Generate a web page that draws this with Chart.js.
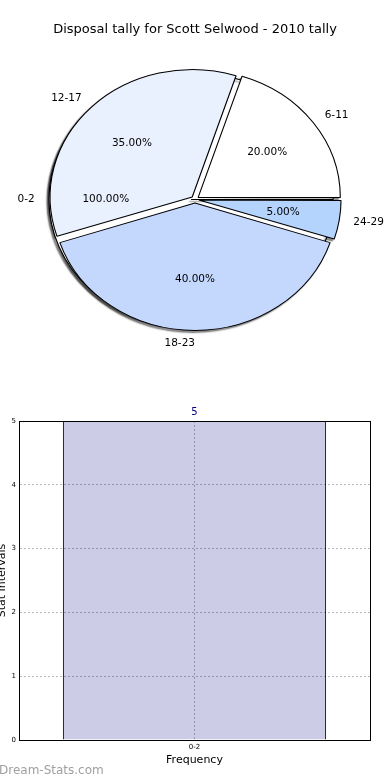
<!DOCTYPE html>
<html>
<head>
<meta charset="utf-8">
<script src="https://cdn.jsdelivr.net/npm/chart.js@4.4.1/dist/chart.umd.min.js"></script>
<style>
  body { margin: 0; background: #fff; }
  #wrap { position: relative; width: 390px; height: 780px; overflow: hidden; }
  canvas { position: absolute; left: 0; }
  #brand { position: absolute; left: -1px; top: 763px; font: 12px "DejaVu Sans", sans-serif; color: #a0a0a0; }
</style>
</head>
<body>
<div id="wrap">
  <canvas id="pieBack" width="390" height="390" style="top:0"></canvas>
  <canvas id="pieFront" width="390" height="390" style="top:0"></canvas>
  <canvas id="barChart" width="390" height="390" style="top:390px"></canvas>
  <div id="brand">Dream-Stats.com</div>
</div>
<script>
// pie drawn underneath (single wedge)
const backLabels = ['0-2'];
const backValues = [5];
const backColors = ['#ffffff'];

// pie drawn on top, listed clockwise from 3 o'clock
const pieLabels = ['24-29', '18-23', '12-17', '6-11'];
const pieValues = [5, 40, 35, 20];
const pieColors = ['#b4d4fe', '#c4d8fe', '#e9f0fe', '#ffffff'];

// bar chart
const barLabels = ['0-2'];
const barValues = [5];

Chart.defaults.font.family = '"DejaVu Sans", sans-serif';
Chart.defaults.color = '#000';

const XS = 1.115;      // pie is stretched sideways
const R = 127.5;
const EXPLODE = 14;    // chart.js moves the wedge by offset / 4
const CY = 199.5;
const titleBlock = 22 + 10 + 13 * 1.2;

// chart.js also grows an offset wedge a little, undo that
const trueRadius = {
  id: 'trueRadius',
  afterDatasetsUpdate(chart) {
    chart.getDatasetMeta(0).data.forEach(arc => {
      const off = (arc.options.offset || 0) / 4;
      arc.outerRadius = R - off * (1 - Math.sin(Math.min(Math.PI, arc.circumference)));
    });
  }
};

const stretch = {
  id: 'stretch',
  beforeDatasetsDraw(chart) {
    const a = chart.chartArea;
    const cx = (a.left + a.right) / 2, cy = (a.top + a.bottom) / 2;
    const ctx = chart.ctx;
    ctx.save();
    ctx.translate(cx, cy);
    ctx.scale(XS, 1);
    ctx.translate(-cx, -cy);
  },
  afterDatasetsDraw(chart) {
    chart.ctx.restore();
  }
};

let backChart;

// texts of both pies are written on the front canvas, above all wedges
const wedgeLabels = {
  id: 'wedgeLabels',
  afterDatasetsDraw(chart) {
    const ctx = chart.ctx;
    ctx.save();
    ctx.fillStyle = '#000';
    ctx.textBaseline = 'middle';
    ctx.font = '10.5px "DejaVu Sans"';
    [backChart, chart].filter(Boolean).forEach(c => {
      const ds = c.data.datasets[0];
      const total = ds.data.reduce((s, v) => s + v, 0);
      c.getDatasetMeta(0).data.forEach((arc, i) => {
        const mid = (arc.startAngle + arc.endAngle) / 2;
        const shift = (arc.options.offset || 0) / 4;
        const cos = Math.cos(mid), sin = Math.sin(mid);
        const d1 = shift + 1.1 * R, d2 = shift + 0.6 * R;
        ctx.textAlign = cos > 1e-6 ? 'left' : 'right';
        ctx.fillText(c.data.labels[i], arc.x + XS * d1 * cos, arc.y + d1 * sin);
        ctx.textAlign = 'center';
        ctx.fillText((ds.data[i] / total * 100).toFixed(2) + '%', arc.x + XS * d2 * cos, arc.y + d2 * sin);
      });
    });
    ctx.restore();
  }
};

function pieOptions(padTop) {
  return {
    responsive: false,
    animation: false,
    devicePixelRatio: 1,
    rotation: 90,
    radius: R,
    layout: { padding: { top: padTop, bottom: 390 - (2 * CY - titleBlock) } },
    plugins: { legend: { display: false }, tooltip: { enabled: false } }
  };
}

const frontChart = new Chart(document.getElementById('pieFront'), {
  type: 'pie',
  data: {
    labels: pieLabels,
    datasets: [{
      data: pieValues,
      backgroundColor: pieColors,
      borderColor: '#000',
      borderWidth: 1,
      offset: EXPLODE
    }]
  },
  options: pieOptions(titleBlock),
  plugins: [trueRadius, stretch, wedgeLabels]
});

// shadows of every wedge go under both pies
const shadows = {
  id: 'shadows',
  beforeDatasetsDraw(chart) {
    const ctx = chart.ctx;
    ctx.save();
    const m = ctx.getTransform();
    ctx.setTransform(new DOMMatrix().translate(-2000, 0).multiply(m));
    ctx.shadowColor = 'rgba(0,0,0,0.45)';
    ctx.shadowBlur = 1.5;
    ctx.shadowOffsetX = 2000 - 2;
    ctx.shadowOffsetY = 2;
    frontChart.getDatasetMeta(0).data.forEach(arc => arc.draw(ctx));
    ctx.restore();
    ctx.shadowColor = 'rgba(0,0,0,0.45)';
    ctx.shadowBlur = 1.5;
    ctx.shadowOffsetX = -2;
    ctx.shadowOffsetY = 2;
  }
};

const backOpts = pieOptions(0);
backOpts.plugins.title = {
  display: true,
  text: 'Disposal tally for Scott Selwood - 2010 tally',
  font: { size: 13, weight: 'normal' },
  color: '#000',
  padding: { top: 22, bottom: 10 }
};

backChart = new Chart(document.getElementById('pieBack'), {
  type: 'pie',
  data: {
    labels: backLabels,
    datasets: [{
      data: backValues,
      backgroundColor: backColors,
      borderColor: '#000',
      borderWidth: 1,
      offset: EXPLODE
    }]
  },
  options: backOpts,
  plugins: [trueRadius, stretch, shadows]
});
frontChart.draw();

// bar chart
const frame = {
  id: 'frame',
  afterDatasetsDraw(chart) {
    const a = chart.chartArea;
    const ctx = chart.ctx;
    ctx.save();
    ctx.strokeStyle = '#000';
    ctx.lineWidth = 1;
    ctx.strokeRect(Math.round(a.left) + 0.5, Math.round(a.top) + 0.5,
      Math.round(a.right - a.left), Math.round(a.bottom - a.top));
    ctx.restore();
  }
};

const barValueLabels = {
  id: 'barValueLabels',
  afterDatasetsDraw(chart) {
    const ctx = chart.ctx;
    ctx.save();
    ctx.fillStyle = '#000080';
    ctx.font = '10px "DejaVu Sans"';
    ctx.textAlign = 'center';
    ctx.textBaseline = 'middle';
    chart.getDatasetMeta(0).data.forEach((bar, i) => {
      ctx.fillText(String(barValues[i]), bar.x, bar.y - 9);
    });
    ctx.restore();
  }
};

const gridColor = 'rgba(0,0,0,0.28)';

new Chart(document.getElementById('barChart'), {
  type: 'bar',
  data: {
    labels: barLabels,
    datasets: [{
      data: barValues,
      backgroundColor: 'rgba(0,0,128,0.2)',
      borderColor: '#000080',
      borderWidth: 1,
      borderSkipped: 'bottom',
      barPercentage: 0.75,
      categoryPercentage: 1
    }]
  },
  options: {
    responsive: false,
    animation: false,
    devicePixelRatio: 1,
    layout: { padding: { top: 31, right: 20, left: 0, bottom: 0 } },
    plugins: { legend: { display: false }, tooltip: { enabled: false } },
    scales: {
      x: {
        grid: { offset: false, color: gridColor, drawTicks: false },
        border: { color: '#000', dash: [2, 2] },
        ticks: { font: { size: 7 }, color: '#000', padding: 3 },
        title: { display: true, text: 'Frequency', font: { size: 11 }, color: '#000', padding: { top: 0, bottom: 13 } },
        afterFit(s) { s.height = 40; }
      },
      y: {
        min: 0,
        max: 5,
        ticks: { stepSize: 1, font: { size: 7 }, color: '#000', padding: 3 },
        grid: { color: gridColor, drawTicks: false },
        border: { color: '#000', dash: [2, 2] },
        title: { display: true, text: 'Stat Intervals', font: { size: 11 }, color: '#000', padding: { top: -4, bottom: 0 } },
        afterFit(s) { s.width = 19; }
      }
    }
  },
  plugins: [frame, barValueLabels]
});
</script>
</body>
</html>
